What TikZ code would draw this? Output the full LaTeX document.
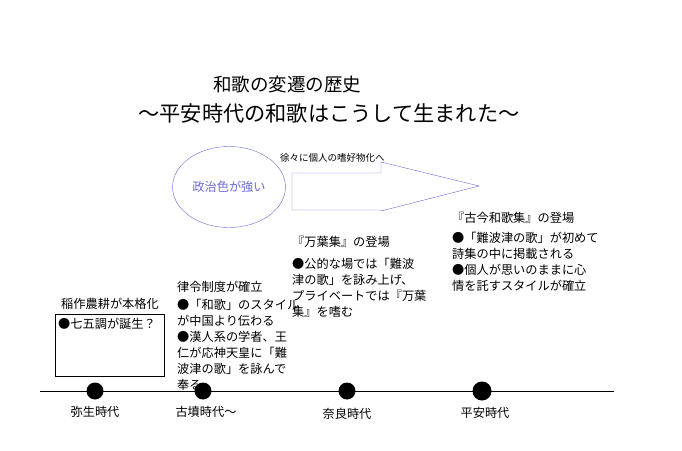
\documentclass[tikz,border=0pt]{standalone}
\usepackage{fontspec}
\setmainfont{Noto Sans CJK JP}
\usetikzlibrary{shapes.geometric}
\definecolor{bl}{HTML}{6A6AD8}
\tikzset{
  txt/.style={anchor=north west,align=left,inner sep=0pt,font=\fontsize{12.2}{16}\selectfont},
  lbl/.style={inner sep=0pt,font=\fontsize{12.2}{14}\selectfont},
  dot/.style={circle,fill=black,minimum size=17pt,inner sep=0pt}
}
\begin{document}
\begin{tikzpicture}[x=1pt,y=-1pt]
\useasboundingbox (0,0) rectangle (682,450);
\node[inner sep=0pt,font=\fontsize{18.5}{20}\selectfont] (t1) at (287,84) {和歌の変遷の歴史};
\node[inner sep=0pt,font=\fontsize{21.2}{22}\selectfont] (t2) at (329,113) {～平安時代の和歌はこうして生まれた～};
\draw[thick] (40,391) coordinate (l0) -- (614,391) coordinate (l1);
\node[dot] (d1) at (95,391) {};
\node[dot] (d2) at (203,391) {};
\node[dot] (d3) at (347,391) {};
\node[dot,minimum size=19pt] (d4) at (482,391) {};
\node[lbl] (y1) at (95,412) {弥生時代};
\node[lbl] (y2) at (206,412) {古墳時代～};
\node[lbl] (y3) at (347,414) {奈良時代};
\node[lbl] (y4) at (485,413) {平安時代};
\node[lbl] (h1) at (110,304) {稲作農耕が本格化};
\draw (55,314) rectangle (164,376);
\node[txt] (b1) at (58,318) {●七五調が誕生？};
\node[txt] (k1) at (177,281) {律令制度が確立};
\node[txt] (k2) at (177,299) {●「和歌」のスタイル\\が中国より伝わる\\●漢人系の学者、王\\仁が応神天皇に「難\\波津の歌」を詠んで\\奉る};
\node[txt] (n1) at (292,236) {『万葉集』の登場};
\node[txt] (n2) at (292,258) {●公的な場では「難波\\津の歌」を詠み上げ、\\プライベートでは『万葉\\集』を嗜む};
\node[txt] (m1) at (452,212) {『古今和歌集』の登場};
\node[txt] (m2) at (452,232) {●「難波津の歌」が初めて\\詩集の中に掲載される\\●個人が思いのままに心\\情を託すスタイルが確立};
\node[ellipse,draw=bl,minimum width=97pt,minimum height=81pt,text=bl,font=\fontsize{12.2}{14}\selectfont] (e) at (229,187) {政治色が強い};
\draw[bl] (292,173) -- (381,173) -- (381,162) -- (479,186) -- (381,211) -- (381,210) -- (292,210) -- cycle;
\node[inner sep=0pt,font=\fontsize{9.5}{10}\selectfont,anchor=west] (a) at (280,158) {徐々に個人の嗜好物化へ};
\end{tikzpicture}
\end{document}
